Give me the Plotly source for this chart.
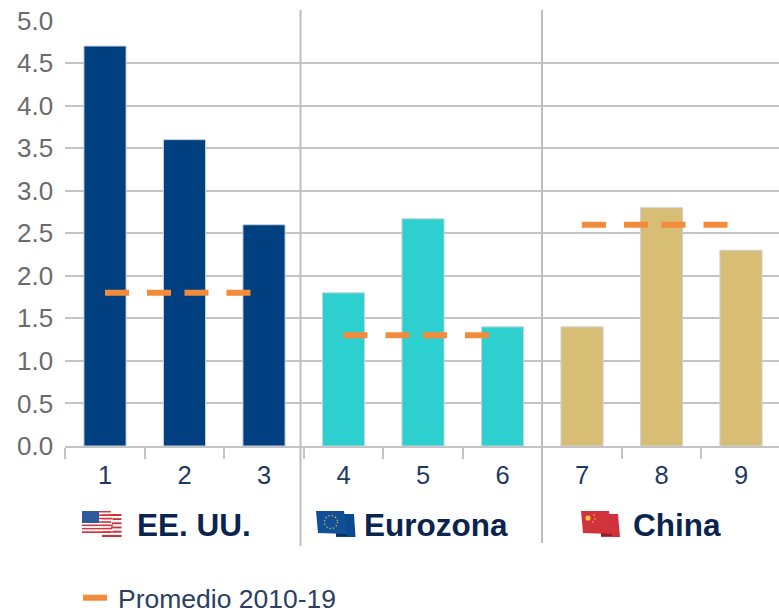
import base64
import plotly.graph_objects as go

categories = ["1", "2", "3", "4", "5", "6", "7", "8", "9"]
values = [4.7, 3.6, 2.6, 1.8, 2.67, 1.4, 1.4, 2.8, 2.3]
bar_colors = ["#004080"] * 3 + ["#2ECFCF"] * 3 + ["#D8BE74"] * 3
avg_groups = [["1", "2", "3"], ["4", "5", "6"], ["7", "8", "9"]]
avg_values = [1.8, 1.3, 2.6]
group_names = ["EE. UU.", "Eurozona", "China"]
y_ticks = [0, 0.5, 1, 1.5, 2, 2.5, 3, 3.5, 4, 4.5, 5]

W, H = 779, 640  # a little taller than the window, so the legend box needs no extra margin
PLOT_LEFT, PLOT_TOP, PLOT_BOTTOM = 65.25, 20.5, 446


def uri(svg):
    return "data:image/svg+xml;base64," + base64.b64encode(svg.encode()).decode()


us_front = "".join(
    f'<rect x="0" y="{i * 22 / 13:.2f}" width="{29 + (i % 3)}" height="{22 / 13:.2f}" fill="{"#d8363e" if i % 2 == 0 else "#ffffff"}"/>'
    for i in range(13)
)
us_back = "".join(
    f'<rect x="20" y="{3 + i * 23 / 11:.2f}" width="19.5" height="{23 / 11:.2f}" fill="{"#cf3038" if i % 2 == 0 else "#ffffff"}"/>'
    for i in range(12)
)
us = f'''<svg xmlns="http://www.w3.org/2000/svg" viewBox="0 0 40 26" preserveAspectRatio="none">{us_back}{us_front}
<rect x="0" y="0" width="17" height="12" fill="#2c5a9c"/></svg>'''
eu = '''<svg xmlns="http://www.w3.org/2000/svg" viewBox="0 0 40 26" preserveAspectRatio="none">
<polygon points="20,3 38,3 39.5,26 20,26" fill="#0b4a8c"/>
<polygon points="20,22 31,23 31,25 20,25" fill="#0a2f63"/>
<polygon points="0,0 28,0 31,23 2,22" fill="#114f96"/>
<circle cx="15" cy="11" r="6.5" fill="none" stroke="#d9c03f" stroke-width="1.3" stroke-dasharray="1.3 2.1"/></svg>'''
cn = '''<svg xmlns="http://www.w3.org/2000/svg" viewBox="0 0 40 26" preserveAspectRatio="none">
<polygon points="20,3 37,3 39,26 20,26" fill="#cf323c"/>
<polygon points="0,0 28,0 31,23 2,22" fill="#d1333a"/>
<polygon points="20,22.3 31,23 31,25 20,25" fill="#8f1f26"/>
<circle cx="7" cy="7" r="2.6" fill="#f0c540"/><circle cx="13" cy="4" r=".8" fill="#f0c540"/>
<circle cx="14" cy="8" r=".8" fill="#f0c540"/><circle cx="12" cy="11" r=".8" fill="#f0c540"/></svg>'''

fig = go.Figure()
fig.add_bar(
    x=categories, y=values, width=0.53, showlegend=False,
    marker=dict(color=bar_colors, line=dict(color="#c8d2dc", width=1)),
)
for i, (grp, v) in enumerate(zip(avg_groups, avg_values)):
    fig.add_scatter(
        x=grp, y=[v] * 3, mode="lines", name="Promedio 2010-19",
        showlegend=i == 0, legendgroup="avg",
        line=dict(color="#F28C3C", width=6, dash="24px,18px,24px,13.5px"),
    )


def fx(v):
    return v / W


def fy(v):
    return 1 - v / H


shapes = [
    dict(type="line", xref="paper", yref="paper", x0=fx(x), x1=fx(x), y0=fy(y1), y1=fy(10),
         line=dict(color="#BDBDBD", width=2))
    for x, y1 in [(300.5, 546), (542, 543)]
]
images = [
    dict(source=uri(s), xref="paper", yref="paper", x=fx(x), y=fy(511),
         sizex=40 / W, sizey=26 / H, xanchor="left", yanchor="top", sizing="stretch", layer="above")
    for s, x in [(us, 82), (eu, 316), (cn, 581)]
]
annotations = [
    dict(text=f"<b>{n}</b>", xref="paper", yref="paper", x=fx(x), y=fy(525),
         xanchor="left", yanchor="middle", showarrow=False, xshift=-2,
         font=dict(size=31.5, color="#0A2450", family="Liberation Sans"))
    for n, x in zip(group_names, [137, 364, 633])
]

fig.update_layout(
    width=W, height=H, autosize=False,
    margin=dict(l=0, r=0, t=0, b=0, pad=0),
    plot_bgcolor="white", paper_bgcolor="white",
    font=dict(family="Liberation Sans"),
    shapes=shapes, images=images, annotations=annotations,
    bargap=0.47,
    legend=dict(
        x=fx(78), y=fy(598), xanchor="left", yanchor="middle",
        font=dict(size=26.5, color="#2A4060"), bgcolor="rgba(0,0,0,0)", itemwidth=30,
    ),
    xaxis=dict(
        domain=[fx(PLOT_LEFT), 1], anchor="y",
        type="category", categoryorder="array", categoryarray=categories,
        range=[-0.5, 8.478], tickson="boundaries", ticks="outside", ticklen=11, tickwidth=2,
        tickcolor="#C4C4C4", showline=True, linecolor="#C4C4C4", linewidth=2, showgrid=False,
        tickfont=dict(size=25.5, color="#1F3A5F"), zeroline=False, ticklabelstandoff=5,
        automargin=False,
    ),
    yaxis=dict(
        domain=[fy(PLOT_BOTTOM), fy(PLOT_TOP)], anchor="x",
        range=[0, 5], tickvals=y_ticks, tickformat=".1f", ticks="", showline=False,
        gridcolor="#C4C4C4", gridwidth=2, zeroline=False, ticklabelstandoff=11,
        tickfont=dict(size=26, color="#6B6B6B"), automargin=False,
    ),
)
fig.write_html(
    "out.html",
    config={"displayModeBar": False},
    post_script="document.body.style.margin='0';document.documentElement.style.overflow='hidden';",
)
